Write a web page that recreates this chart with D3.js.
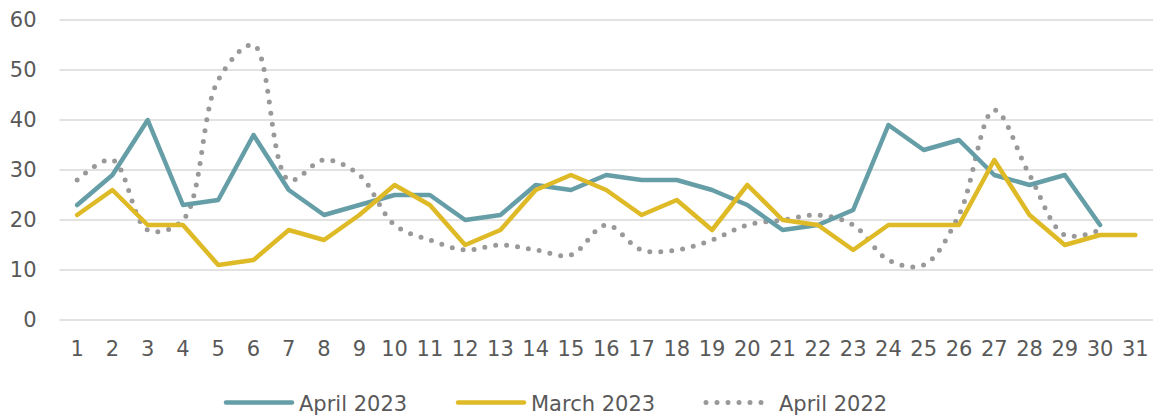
<!DOCTYPE html>
<html>
<head>
<meta charset="utf-8">
<script src="https://cdn.jsdelivr.net/npm/d3@7"></script>
<style>
  body { margin: 0; background: #fff; }
  text { font-family: "DejaVu Sans", sans-serif; fill: #595959; }
</style>
</head>
<body>
<svg width="1157" height="418"></svg>
<script>
var days = d3.range(1, 32).map(String);

var april2023 = [23,29,40,23,24,37,26,21,23,25,25,20,21,27,26,29,28,28,26,23,18,19,22,39,34,36,29,27,29,19,null];
var march2023 = [21,26,19,19,11,12,18,16,21,27,23,15,18,26,29,26,21,24,18,27,20,19,14,19,19,19,32,21,15,17,17];
var april2022 = [28,32,18,20,48,55,28,32,29,19,16,14,15,14,13,19,14,14,16,19,20,21,19,12,11,21,42,29,17,18,null];

var yTicks = [0,10,20,30,40,50,60];

var svg = d3.select("svg"),
    margin = {left: 59.5, right: 4, top: 20, bottom: 98},
    width = +svg.attr("width"),
    height = +svg.attr("height");

var x = d3.scaleBand()
    .domain(days)
    .range([margin.left, width - margin.right]);

var y = d3.scaleLinear()
    .domain([0, 60])
    .range([height - margin.bottom, margin.top]);

// gridlines
svg.append("g")
  .selectAll("line")
  .data(yTicks)
  .enter().append("line")
    .attr("x1", margin.left)
    .attr("x2", width - margin.right)
    .attr("y1", function(d) { return y(d); })
    .attr("y2", function(d) { return y(d); })
    .attr("stroke", "#d9d9d9")
    .attr("stroke-width", 1.5);

// y axis
var yAxis = svg.append("g")
    .attr("transform", "translate(" + (margin.left - 23) + ",0)")
    .call(d3.axisLeft(y).tickValues(yTicks).tickSize(0).tickPadding(0));
yAxis.select(".domain").remove();
yAxis.selectAll("text")
    .style("font-size", "21px")
    .attr("fill", "#595959");

// x axis
var xAxis = svg.append("g")
    .attr("transform", "translate(0," + (height - margin.bottom) + ")")
    .call(d3.axisBottom(x).tickSize(0).tickPadding(21));
xAxis.select(".domain").remove();
xAxis.selectAll("text")
    .style("font-size", "21px")
    .attr("fill", "#595959");

function cx(d, i) { return x(days[i]) + x.bandwidth() / 2; }

var straight = d3.line()
    .defined(function(d) { return d != null; })
    .x(cx)
    .y(function(d) { return y(d); });

var smooth = d3.line()
    .defined(function(d) { return d != null; })
    .curve(d3.curveCatmullRom.alpha(0.5))
    .x(cx)
    .y(function(d) { return y(d); });

svg.append("path")
    .datum(april2022)
    .attr("d", smooth)
    .attr("fill", "none")
    .attr("stroke", "#999999")
    .attr("stroke-width", 5)
    .attr("stroke-linecap", "round")
    .attr("stroke-dasharray", "0 11");

svg.append("path")
    .datum(april2023)
    .attr("d", straight)
    .attr("fill", "none")
    .attr("stroke", "#669ea7")
    .attr("stroke-width", 4.5)
    .attr("stroke-linejoin", "round")
    .attr("stroke-linecap", "round");

svg.append("path")
    .datum(march2023)
    .attr("d", straight)
    .attr("fill", "none")
    .attr("stroke", "#dfba27")
    .attr("stroke-width", 4.5)
    .attr("stroke-linejoin", "round")
    .attr("stroke-linecap", "round");

// legend
var legend = [
  {name: "April 2023", color: "#669ea7", x: 226, dash: null},
  {name: "March 2023", color: "#dfba27", x: 458, dash: null},
  {name: "April 2022", color: "#999999", x: 706, dash: "0 11"}
];
var ly = 402.5;
var lg = svg.append("g").selectAll("g")
  .data(legend)
  .enter().append("g");
lg.append("line")
    .attr("x1", function(d) { return d.x; })
    .attr("x2", function(d) { return d.x + 66; })
    .attr("y1", ly).attr("y2", ly)
    .attr("stroke", function(d) { return d.color; })
    .attr("stroke-width", function(d) { return d.dash ? 5 : 4.5; })
    .attr("stroke-linecap", "round")
    .attr("stroke-dasharray", function(d) { return d.dash; });
lg.append("text")
    .attr("x", function(d) { return d.x + 73; })
    .attr("y", ly + 8)
    .style("font-size", "21px")
    .text(function(d) { return d.name; });
</script>
</body>
</html>
